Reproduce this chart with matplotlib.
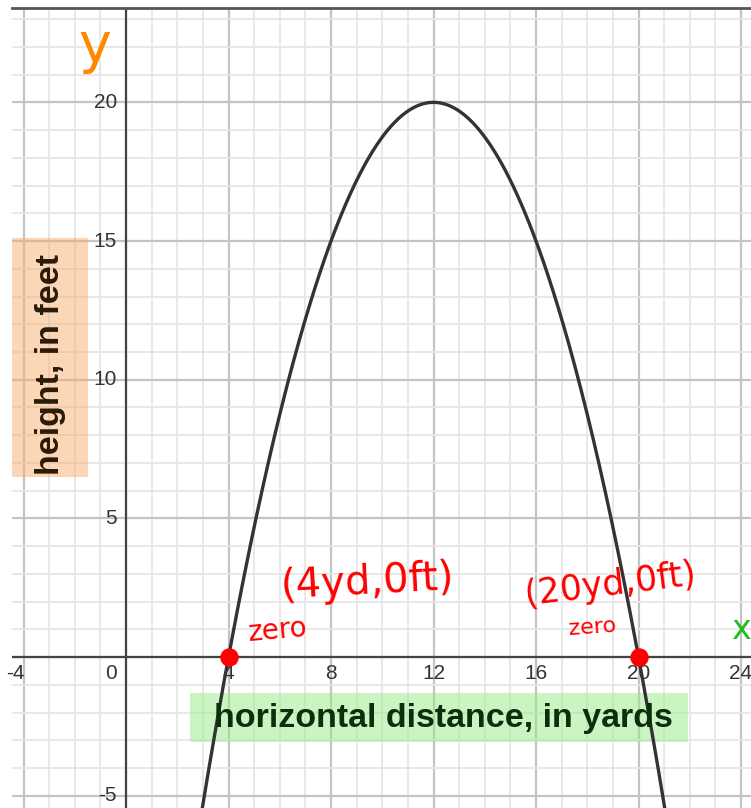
import numpy as np
import matplotlib
matplotlib.use('Agg')
import matplotlib.pyplot as plt
from matplotlib.patches import Rectangle

# values
zeros_x = [4, 20]
zeros_y = [0, 0]
vertex_x = 12
vertex_y = 20
x_ticks = [-4, 0, 4, 8, 12, 16, 20, 24]
y_ticks = [-5, 5, 10, 15, 20]
zero_notes = ['(4yd,0ft)', '(20yd,0ft)']

plt.rcParams['font.family'] = ['Liberation Sans', 'DejaVu Sans']

fig = plt.figure(figsize=(7.51, 8.08), dpi=100)
ax = fig.add_axes([12/751, 0, 739/751, 800.5/808])
ax.set_xlim(-4.45, 24.39)
ax.set_ylim(-5.44, 23.42)

# grid, minor then major
for gx in range(-4, 25):
    major = gx % 4 == 0
    ax.axvline(gx, color='#c4c4c4' if major else '#e6e6e6', lw=1.6 if major else 1.3, zorder=0)
for gy in range(-5, 24):
    major = gy % 5 == 0
    ax.axhline(gy, color='#c4c4c4' if major else '#e6e6e6', lw=1.6 if major else 1.3, zorder=0)
ax.axhline(0, color='#444444', lw=1.6, zorder=1)
ax.axvline(0, color='#444444', lw=1.6, zorder=1)

for s in ['left', 'right', 'bottom']:
    ax.spines[s].set_visible(False)
ax.spines['top'].set_color('#555555')
ax.spines['top'].set_linewidth(2)
ax.set_xticks([])
ax.set_yticks([])

# tick numbers
for t in x_ticks:
    if t == 0:
        ax.text(-0.35, -0.6, '0', ha='right', va='center', fontsize=15, color='#333333')
    elif t < 0:
        ax.text(t + 0.05, -0.6, str(t), ha='right', va='center', fontsize=15, color='#333333')
    else:
        ax.text(t, -0.6, str(t), ha='center', va='center', fontsize=15, color='#333333',
                clip_on=False)
for t in y_ticks:
    ax.text(-0.35, t, str(t), ha='right', va='center', fontsize=15, color='#333333')

# parabola through the two zeros and the vertex
a = vertex_y / ((vertex_x - zeros_x[0]) * (vertex_x - zeros_x[1]))
xs = np.linspace(-4.45, 24.39, 600)
ys = a * (xs - zeros_x[0]) * (xs - zeros_x[1])
ax.plot(xs, ys, color='#333333', lw=2.4, zorder=3)
ax.scatter(zeros_x, zeros_y, s=150, color='#ff0000', zorder=4)

# highlighted axis labels
ax.add_patch(Rectangle((-4.45, 6.49), 2.97, 8.62, facecolor='#f9b070', alpha=0.5,
                       edgecolor='none', zorder=2))
ax.text(-2.95, 10.55, 'height, in feet', rotation=90, ha='center', va='center',
        fontsize=24.5, fontweight='bold', color='#2a1a08', zorder=3)
ax.add_patch(Rectangle((2.5, -3.06), 19.43, 1.77, facecolor='#98ea88', alpha=0.5,
                       edgecolor='none', zorder=2))
ax.text(12.4, -2.2, 'horizontal distance, in yards', ha='center', va='center',
        fontsize=24.5, fontweight='bold', color='#0d2e0d', zorder=3)

# red notes
ax.text(9.4, 2.7, zero_notes[0], ha='center', va='center', fontsize=29,
        color='#ff0000', family='DejaVu Sans', rotation=3, zorder=5)
ax.text(5.9, 0.95, 'zero', ha='center', va='center', fontsize=20,
        color='#ff0000', family='DejaVu Sans', rotation=5, zorder=5)
ax.text(18.9, 2.6, zero_notes[1], ha='center', va='center', fontsize=25,
        color='#ff0000', family='DejaVu Sans', rotation=7, zorder=5)
ax.text(18.2, 1.08, 'zero', ha='center', va='center', fontsize=16,
        color='#ff0000', family='DejaVu Sans', rotation=4, zorder=5)

# axis letters
ax.text(-1.2, 22.0, 'y', ha='center', va='center', fontsize=40, color='#ff8800',
        family='DejaVu Sans', zorder=5)
ax.text(24.0, 1.0, 'x', ha='center', va='center', fontsize=24, color='#22bb22',
        family='DejaVu Sans', zorder=5, clip_on=True)

fig.savefig('out.png', dpi=100)
